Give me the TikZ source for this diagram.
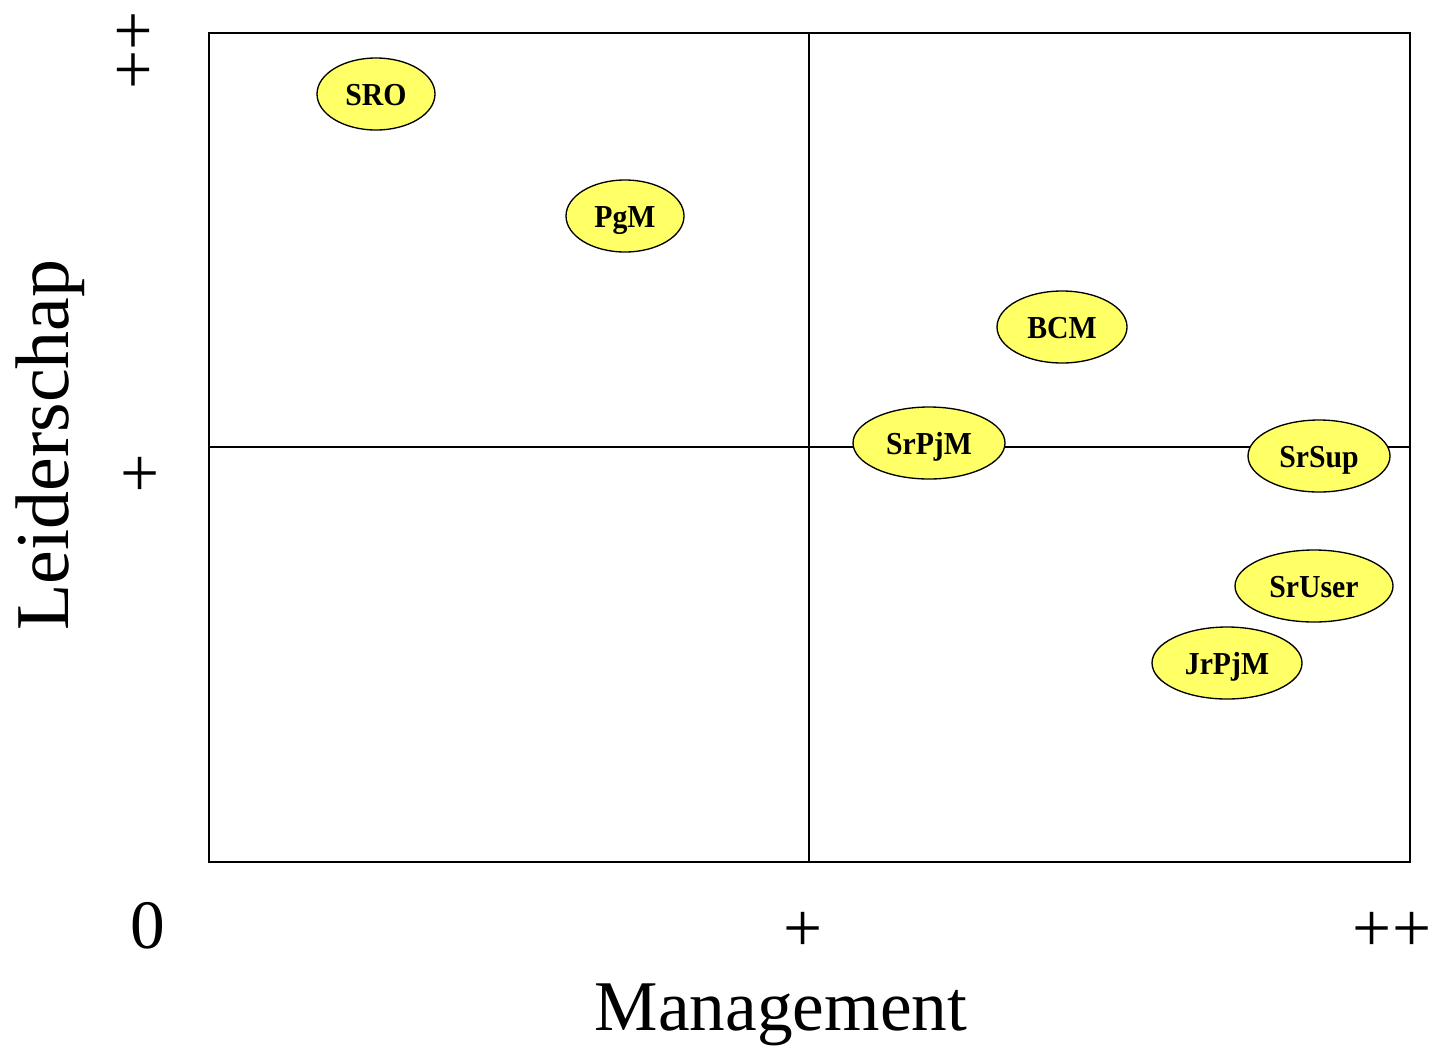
\documentclass[tikz,border=0pt]{standalone}
\usepackage{fontspec}
\setmainfont{Liberation Serif}
\newfontfamily\lblfont{Liberation Serif}[FakeStretch=0.93]
\usetikzlibrary{shapes.geometric}
\definecolor{ellyellow}{HTML}{FFFF66}
\tikzset{
  ell/.style={ellipse, draw=black, line width=1pt, fill=ellyellow, inner sep=0pt,
    text height=17.6pt, text depth=0pt,
    minimum height=54pt, font=\lblfont\bfseries\fontsize{24}{24}\selectfont},
  axlbl/.style={font=\fontsize{52}{52}\selectfont, inner sep=0pt},
  gridline/.style={line width=1.5pt}
}
\begin{document}
\begin{tikzpicture}[x=0.75pt,y=-0.75pt]
\useasboundingbox (0,0) rectangle (1434,1054);
\coordinate (tl) at (209,33);
\coordinate (br) at (1410,862);
\coordinate (vt) at (809,33);
\coordinate (vb) at (809,862);
\coordinate (hl) at (209,447);
\coordinate (hr) at (1410,447);
\draw[gridline] (tl) rectangle (br);
\draw[gridline] (vt) -- (vb);
\draw[gridline] (hl) -- (hr);

\node[ell, minimum width=88.5pt] (sro) at (376,94) {SRO};
\node[ell, minimum width=88.5pt] (pgm) at (625,216) {PgM};
\node[ell, minimum width=97.5pt] (bcm) at (1062,327) {BCM};
\node[ell, minimum width=114pt] (srpjm) at (929,443) {SrPjM};
\node[ell, minimum width=106.5pt] (srsup) at (1319,456) {SrSup};
\node[ell, minimum width=118.5pt] (sruser) at (1314,586) {SrUser};
\node[ell, minimum width=112.5pt] (jrpjm) at (1227,663) {JrPjM};

\node[axlbl] (x0) at (148,926) {0};
\node[axlbl] (x1) at (803,932) {+};
\node[axlbl] (x2) at (1392,932) {++};
\node[axlbl] (y1) at (140,477) {+};
\node[axlbl, rotate=90] (y2) at (137,50) {++};
\node[axlbl, font=\fontsize{53.5}{53.5}\selectfont] (xl) at (781,1015) {Management};
\node[axlbl, rotate=90, font=\fontsize{57}{57}\selectfont] (yl) at (50,445) {Leiderschap};
\end{tikzpicture}
\end{document}
